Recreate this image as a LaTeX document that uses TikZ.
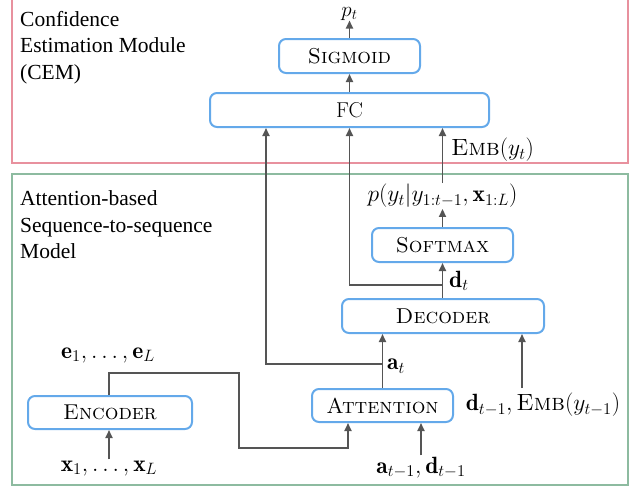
\RequirePackage{fix-cm}
\documentclass[tikz,border=0pt]{standalone}
\usepackage{fontspec}
\newfontfamily\timesfont{Liberation Serif}
\usetikzlibrary{arrows.meta}
\definecolor{boxblue}{HTML}{64A9EA}
\definecolor{cempink}{HTML}{E8919E}
\definecolor{seqgreen}{HTML}{8DBBA0}
\definecolor{arrgray}{HTML}{555555}
\begin{document}
\begin{tikzpicture}[x=1pt,y=-1pt,
 blk/.style={draw=boxblue, line width=2pt, rounded corners=7pt, minimum height=34pt, inner sep=0pt, font=\fontsize{21.5}{25}\selectfont},
 lbl/.style={inner sep=1pt, font=\fontsize{23.5}{27}\selectfont},
 side/.style={align=left, anchor=north west, inner sep=0pt, font=\timesfont\fontsize{21.5}{26.5}\selectfont},
 arr/.style={draw=arrgray, line width=1.8pt, -{Triangle[length=8pt,width=7pt]}},
 frame/.style={line width=2.5pt}]
\useasboundingbox (0,0) rectangle (641,488);
% frames
\draw[cempink, frame] (12,-5) rectangle (628,163);
\draw[seqgreen, frame] (12,174) rectangle (628,485);
% side texts
\node[side] (cem) at (20,11) {Confidence\\Estimation Module\\(CEM)};
\node[side] (seq) at (20,190.5) {Attention-based\\Sequence-to-sequence\\Model};
% blocks
\node[blk, minimum width=141pt] (sig) at (349.5,56) {\textsc{Sigmoid}};
\node[blk, minimum width=279pt] (fc) at (349.5,110) {FC};
\node[blk, minimum width=141pt] (soft) at (442.5,245) {\textsc{Softmax}};
\node[blk, minimum width=202pt] (dec) at (443,316) {\textsc{Decoder}};
\node[blk, minimum width=141pt, minimum height=33pt] (att) at (382.5,405.5) {\textsc{Attention}};
\node[blk, minimum width=164pt, minimum height=33pt] (enc) at (110,412.5) {\textsc{Encoder}};
% labels
\node[lbl, anchor=south, inner sep=0pt, font=\fontsize{21}{24}\selectfont] (pt) at (349.5,20.5) {$p_t$};
\node[lbl, anchor=west] (emb) at (450,150) {\textsc{Emb}$(y_t)$};
\node[lbl] (pl) at (442.5,196) {$p(y_t|y_{1:t-1},\mathbf{x}_{1:L})$};
\node[lbl, anchor=west] (dt) at (448,281) {$\mathbf{d}_t$};
\node[lbl, anchor=west] (at) at (386,366) {$\mathbf{a}_t$};
\node[lbl, anchor=base] (el) at (108,358) {$\mathbf{e}_1,\ldots,\mathbf{e}_L$};
\node[lbl, anchor=base] (xl) at (109,471) {$\mathbf{x}_1,\ldots,\mathbf{x}_L$};
\node[lbl, anchor=base] (ad) at (421,473) {$\mathbf{a}_{t-1},\mathbf{d}_{t-1}$};
\node[lbl] (de) at (543,405) {$\mathbf{d}_{t-1},\textsc{Emb}(y_{t-1})$};
% coordinates
\coordinate (b1) at (442.5,285);
\coordinate (b2) at (382.5,364);
\coordinate (fcl) at (266,128);
\coordinate (e1) at (239,373);
\coordinate (e2) at (239,448);
\coordinate (attl) at (348,423);
\coordinate (dr) at (522,388);
% connectors
\draw[arr] (sig) -- (pt);
\draw[arr] (fc) -- (sig);
\draw[arr] (soft.south |- dec.north) -- (soft.south);
\draw[arr] (b1) -| (fc.south);
\draw[arr] (soft) -- (pl);
\draw[arr] (pl.north) -- (pl.north |- fc.south);
\draw[arr] (att.north) -- (att.north |- dec.south);
\draw[arr] (b2) -| (fcl);
\draw[arr] (xl.north) -- (xl.north |- enc.south);
\draw[arr] (enc.north -| xl.north) |- (e1) -- (e2) -| (attl);
\draw[arr] (ad.north) -- (ad.north |- att.south);
\draw[arr] (dr) -- (dr |- dec.south);
\end{tikzpicture}
\end{document}
